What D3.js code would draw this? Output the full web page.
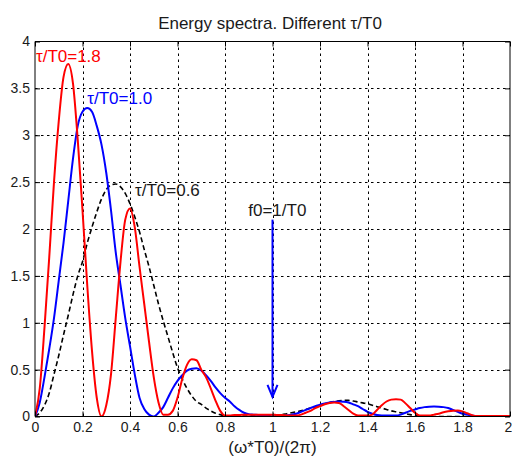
<!DOCTYPE html>
<html>
<head>
<meta charset="utf-8">
<script src="https://cdn.jsdelivr.net/npm/d3@7"></script>
<style>
  html, body { margin: 0; padding: 0; background: #fff; }
  svg { display: block; font-family: "Liberation Sans", Arial, sans-serif; }
</style>
</head>
<body>
<div id="chart"></div>
<script>
// Sample frequencies (ω*T0)/(2π), step 0.02
const freq = d3.range(0, 101).map((i) => +(i * 0.02).toFixed(2));

// τ/T0 = 1.8 (red)
const spectrum18 = [
  0, 0.3, 0.95, 1.7, 2.5, 3.15, 3.62, 3.76, 3.55, 2.95,
  2.2, 1.4, 0.7, 0.2, 0.0, 0.12, 0.45, 1.05, 1.65, 2.1,
  2.22, 2.02, 1.6, 1.2, 0.8, 0.42, 0.15, 0.02, 0.02, 0.06,
  0.2, 0.4, 0.55, 0.61, 0.6, 0.5, 0.42, 0.3, 0.17, 0.06,
  0.01, 0.01, 0.015, 0.015, 0.02, 0.02, 0.02, 0.02, 0.02, 0.02,
  0.02, 0.015, 0.015, 0.01, 0.01, 0.01, 0.02, 0.04, 0.06, 0.09,
  0.11, 0.13, 0.145, 0.15, 0.145, 0.11, 0.07, 0.03, 0.01, 0.01,
  0.01, 0.02, 0.07, 0.12, 0.16, 0.18, 0.185, 0.18, 0.14, 0.09,
  0.04, 0.01, 0.01, 0.01, 0.02, 0.03, 0.045, 0.055, 0.062, 0.064,
  0.055, 0.035, 0.015, 0.005, 0.005, 0.005, 0.005, 0.005, 0.005, 0.005,
  0.005,
];

// τ/T0 = 1.0 (blue)
const spectrum10 = [
  0, 0.15, 0.42, 0.72, 1.05, 1.45, 1.85, 2.3, 2.75, 3.1,
  3.25, 3.29, 3.25, 3.1, 2.9, 2.6, 2.2, 1.75, 1.4, 1.05,
  0.75, 0.45, 0.2, 0.08, 0.02, 0.0, 0.04, 0.1, 0.2, 0.3,
  0.38, 0.44, 0.49, 0.51, 0.515, 0.49, 0.44, 0.38, 0.31, 0.25,
  0.2, 0.16, 0.11, 0.07, 0.04, 0.025, 0.02, 0.015, 0.01, 0.005,
  0.0, 0.0, 0.005, 0.01, 0.02, 0.03, 0.05, 0.07, 0.09, 0.11,
  0.125, 0.14, 0.15, 0.155, 0.16, 0.158, 0.15, 0.13, 0.11, 0.08,
  0.05, 0.03, 0.015, 0.01, 0.01, 0.01, 0.01, 0.02, 0.04, 0.06,
  0.075, 0.09, 0.1, 0.105, 0.107, 0.105, 0.1, 0.09, 0.07, 0.05,
  0.03, 0.02, 0.01, 0.005, 0.0, 0.0, 0.0, 0.0, 0.0, 0.0,
  0.0,
];

// τ/T0 = 0.6 (black dashed)
const spectrum06 = [
  0, 0.04, 0.12, 0.25, 0.45, 0.65, 0.87, 1.08, 1.3, 1.5,
  1.65, 1.85, 2.02, 2.18, 2.32, 2.42, 2.47, 2.48, 2.45, 2.38,
  2.27, 2.13, 1.97, 1.78, 1.6, 1.4, 1.2, 1.02, 0.85, 0.68,
  0.52, 0.4, 0.3, 0.22, 0.16, 0.13, 0.09, 0.06, 0.035, 0.02,
  0.008, 0.0, 0.0, 0.0, 0.005, 0.005, 0.01, 0.01, 0.01, 0.01,
  0.01, 0.015, 0.02, 0.03, 0.04, 0.05, 0.06, 0.075, 0.09, 0.105,
  0.12, 0.135, 0.148, 0.16, 0.168, 0.172, 0.172, 0.165, 0.155, 0.145,
  0.135, 0.12, 0.105, 0.09, 0.075, 0.06, 0.05, 0.04, 0.03, 0.02,
  0.01, 0.005, 0.0, 0.0, 0.0, 0.0, 0.0, 0.0, 0.0, 0.0,
  0.0, 0.0, 0.0, 0.0, 0.0, 0.0, 0.0, 0.0, 0.0, 0.0,
  0.0,
];

const xTicks = [0, 0.2, 0.4, 0.6, 0.8, 1, 1.2, 1.4, 1.6, 1.8, 2];
const yTicks = [0, 0.5, 1, 1.5, 2, 2.5, 3, 3.5, 4];

const series = [
  { name: "τ/T0=0.6", values: spectrum06, color: "#000", width: 1.6, dash: "5 3", label: [0.421, 2.35] },
  { name: "τ/T0=1.0", values: spectrum10, color: "#0000ff", width: 2, dash: null, label: [0.22, 3.33] },
  { name: "τ/T0=1.8", values: spectrum18, color: "#ff0000", width: 2, dash: null, label: [0.004, 3.785] },
];

// arrow marking f0 = 1/T0: x, top, tip
const marker = { x: 1, top: 2.1, tip: 0.21, label: "f0=1/T0", labelAt: [0.898, 2.14] };

const width = 512;
const height = 457;
const margin = { top: 41.5, right: 2, bottom: 40.5, left: 35 };

const xScale = d3.scaleLinear().domain([0, 2]).range([margin.left, width - margin.right]);
const yScale = d3.scaleLinear().domain([0, 4]).range([height - margin.bottom, margin.top]);

const svg = d3.select("#chart")
  .append("svg")
  .attr("width", width)
  .attr("height", height)
  .attr("viewBox", `0 0 ${width} ${height}`);

const x0 = xScale.range()[0];
const x1 = xScale.range()[1];
const y0 = yScale.range()[0];
const y1 = yScale.range()[1];

// dotted grid
const grid = svg.append("g").attr("stroke", "#000").attr("stroke-width", 1).attr("stroke-dasharray", "2.5 3.5");
xTicks.slice(1, -1).forEach((t) => {
  grid.append("line").attr("x1", Math.round(xScale(t)) + 0.5).attr("x2", Math.round(xScale(t)) + 0.5).attr("y1", y1).attr("y2", y0);
});
yTicks.slice(1, -1).forEach((t) => {
  grid.append("line").attr("x1", x0).attr("x2", x1).attr("y1", Math.round(yScale(t)) + 0.5).attr("y2", Math.round(yScale(t)) + 0.5);
});

// curves
svg.append("clipPath").attr("id", "plot-clip").append("rect")
  .attr("x", x0).attr("y", y1).attr("width", x1 - x0).attr("height", y0 - y1);

const line = d3.line()
  .x((d) => xScale(d[0]))
  .y((d) => yScale(d[1]))
  .curve(d3.curveMonotoneX);

const curves = svg.append("g").attr("clip-path", "url(#plot-clip)");
series.forEach((s) => {
  curves.append("path")
    .datum(freq.map((f, i) => [f, s.values[i]]))
    .attr("fill", "none")
    .attr("stroke", s.color)
    .attr("stroke-width", s.width)
    .attr("stroke-dasharray", s.dash)
    .attr("stroke-linejoin", "round")
    .attr("d", line);
});

// axes box with inward ticks
const xAxisBottom = d3.axisBottom(xScale).tickValues(xTicks).tickSize(-5).tickPadding(6).tickFormat(d3.format("~g"));
const xAxisTop = d3.axisTop(xScale).tickValues(xTicks).tickSize(-5).tickFormat("");
const yAxisLeft = d3.axisLeft(yScale).tickValues(yTicks).tickSize(-5).tickPadding(5).tickFormat(d3.format("~g"));
const yAxisRight = d3.axisRight(yScale).tickValues(yTicks).tickSize(-5).tickFormat("");

function styleAxis(g) {
  g.select(".domain").attr("stroke", "#000");
  g.selectAll(".tick line").attr("stroke", "#000");
  g.selectAll(".tick text").attr("fill", "#1a1a1a").attr("font-size", 14).attr("font-family", "Liberation Sans, Arial, sans-serif");
}

svg.append("g").attr("transform", `translate(0,${y0})`).call(xAxisBottom).call(styleAxis)
  .call((g) => g.select(".domain").attr("d", `M${x0},0H${x1}`))
  .call((g) => g.selectAll(".tick text").filter((d) => d === 2).attr("dx", -2));
svg.append("g").attr("transform", `translate(0,${y1})`).call(xAxisTop).call(styleAxis)
  .call((g) => g.select(".domain").attr("d", `M${x0},0H${x1}`));
svg.append("g").attr("transform", `translate(${x0},0)`).call(yAxisLeft).call(styleAxis)
  .call((g) => g.select(".domain").attr("d", `M0,${y0}V${y1}`));
svg.append("g").attr("transform", `translate(${x1},0)`).call(yAxisRight).call(styleAxis)
  .call((g) => g.select(".domain").attr("d", `M0,${y0}V${y1}`));

// f0 arrow
const ax = xScale(marker.x);
const arrow = svg.append("g").attr("stroke", "#0000ff").attr("stroke-width", 2).attr("fill", "none");
arrow.append("line").attr("x1", ax).attr("x2", ax).attr("y1", yScale(marker.top)).attr("y2", yScale(marker.tip));
arrow.append("path")
  .attr("d", `M${ax - 5},${yScale(marker.tip) - 12}L${ax},${yScale(marker.tip)}L${ax + 5},${yScale(marker.tip) - 12}`);

// annotations
const fontSize = 17;
series.forEach((s) => {
  svg.append("text")
    .attr("x", xScale(s.label[0]))
    .attr("y", yScale(s.label[1]))
    .attr("fill", s.color === "#000" ? "#1a1a1a" : s.color)
    .attr("font-size", fontSize)
    .text(s.name);
});
svg.append("text")
  .attr("x", xScale(marker.labelAt[0]))
  .attr("y", yScale(marker.labelAt[1]))
  .attr("fill", "#1a1a1a")
  .attr("font-size", fontSize)
  .text(marker.label);

svg.append("text")
  .attr("x", 270)
  .attr("y", 29)
  .attr("text-anchor", "middle")
  .attr("fill", "#1a1a1a")
  .attr("font-size", 17)
  .text("Energy spectra. Different τ/T0");

svg.append("text")
  .attr("x", 272.5)
  .attr("y", 453)
  .attr("text-anchor", "middle")
  .attr("fill", "#1a1a1a")
  .attr("font-size", 17)
  .text("(ω*T0)/(2π)");
</script>
</body>
</html>
